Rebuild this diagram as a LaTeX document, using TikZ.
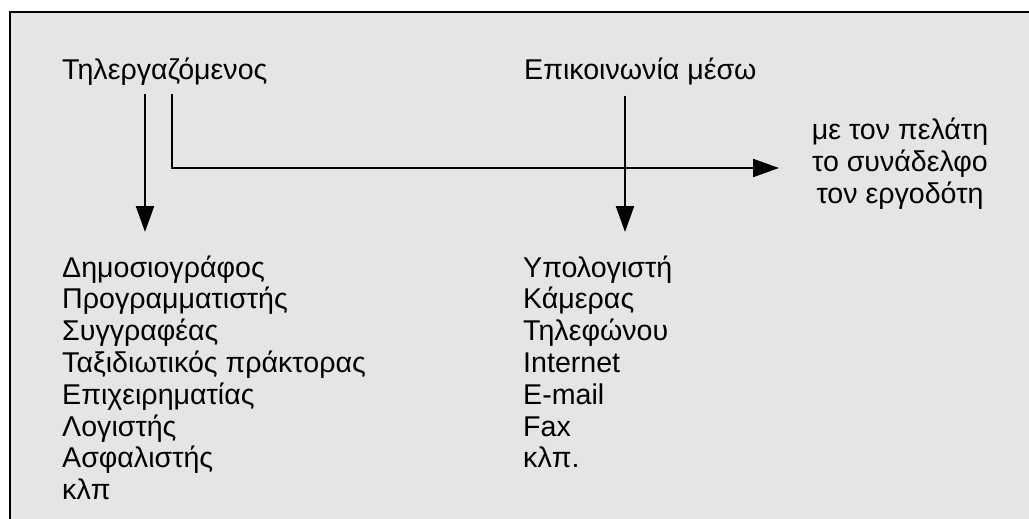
\documentclass[tikz,border=0pt]{standalone}
\usepackage{fontspec}
\setmainfont{Liberation Sans}
\usetikzlibrary{arrows.meta}
\definecolor{panel}{HTML}{E5E5E5}
\begin{document}
\begin{tikzpicture}[x=1pt,y=-1pt,
  lbl/.style={inner sep=0pt, anchor=base west, font=\fontsize{28.6}{31.8}\selectfont},
  clbl/.style={lbl, anchor=base},
  conn/.style={line width=2.2pt, -{Triangle[length=26pt,width=18pt]}}]
\useasboundingbox (0,0) rectangle (1029,519);
% grey panel, running off the right and bottom edges
\begin{scope}
  \clip (0,0) rectangle (1029,519);
  \draw[fill=panel, line width=2pt] (10,12) rectangle (1045,535);
\end{scope}

% headings
\node[lbl] (worker) at (62,80) {Τηλεργαζόμενος};
\node[lbl] (comm) at (524,79.5) {Επικοινωνία μέσω};

% recipients
\node[clbl] (whom1) at (900,139.5) {με τον πελάτη};
\node[clbl] (whom2) at (900,171.3) {το συνάδελφο};
\node[clbl] (whom3) at (900,203) {τον εργοδότη};

% professions
\foreach \t [count=\i] in {Δημοσιογράφος, Προγραμματιστής, Συγγραφέας,
    Ταξιδιωτικός πράκτορας, Επιχειρηματίας, Λογιστής, Ασφαλιστής, κλπ}
  \node[lbl] (job\i) at (62,{277+31.8*(\i-1)}) {\t};

% means of communication
\foreach \t [count=\i] in {Υπολογιστή, Κάμερας, Τηλεφώνου, Internet,
    E-mail, Fax, κλπ.}
  \node[lbl] (via\i) at (523,{277+31.8*(\i-1)}) {\t};

% connector end points
\coordinate (w1) at (145,94);
\coordinate (w2) at (172,94);
\coordinate (c1) at (625,96);
\coordinate (jobs) at (145,232);
\coordinate (vias) at (625,232);
\coordinate (send) at (779,168);

\draw[conn] (w1) -- (jobs);
\draw[conn] (w2) |- (send);
\draw[conn] (c1) -- (vias);
\end{tikzpicture}
\end{document}
